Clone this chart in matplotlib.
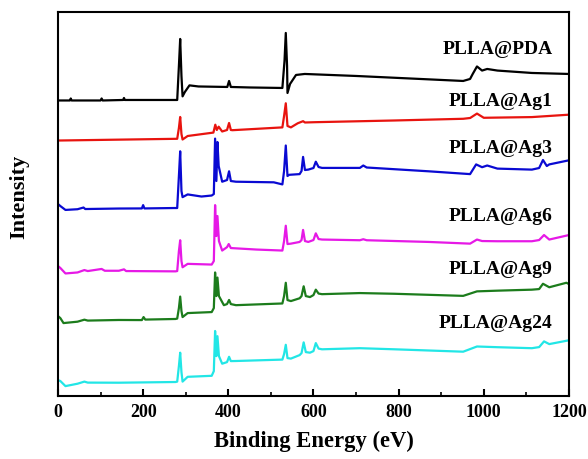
import numpy as np
import matplotlib
matplotlib.use('Agg')
import matplotlib.pyplot as plt
from matplotlib.ticker import MultipleLocator

plt.rcParams['font.family'] = ['Liberation Serif', 'DejaVu Serif']
plt.rcParams['font.weight'] = 'bold'

# Survey spectra (binding energy in eV, intensity in a.u. incl. offset)
e_pda = [0, 5.5, 28, 30, 32, 100, 102.5, 105, 153, 155, 157, 280, 284, 287, 290, 292.6, 298, 308.8, 330,
         397.6, 401.8, 406, 450, 527, 532, 535, 538, 539, 545, 559, 579.6, 700, 951.6, 967.8, 974, 984,
         996, 1008, 1032, 1113, 1200]
i_pda = [295.5, 295.5, 295.5, 297.5, 295.5, 295.5, 297.5, 295.5, 296, 298, 296, 296, 330, 357, 320, 299.6, 304,
         310.6, 309.5, 309, 315, 309, 308.5, 308, 335, 363, 330, 303, 312, 321, 322, 320, 315, 317, 322, 329.5,
         325.4, 327, 325.4, 323, 322]

e_ag1 = [0, 5.5, 280, 284, 287, 290, 292.6, 304.6, 365, 369.5, 373, 377.4, 385.6, 397, 401.8, 406, 409.8,
         527, 531, 535, 539, 547, 563, 575.6, 580, 604, 790, 951.6, 968, 984, 1000, 1113, 1200]
i_ag1 = [255.5, 255.5, 257.2, 268, 279, 262, 256.5, 260, 263.4, 271.3, 266, 269.3, 264.5, 266, 273, 266, 265.8,
         268.6, 280, 292.7, 270, 268.6, 272.7, 274.8, 273.5, 273.8, 275.5, 277.2, 278, 282.4, 278.2, 278.9, 281.3]

e_ag3 = [0, 5.5, 17.6, 45.9, 60, 64, 143, 197, 200, 203, 272, 280, 284, 287, 290, 292.6, 304.6, 337, 361, 366,
         369, 372, 374.5, 377.4, 385.6, 397, 401.8, 406, 418, 506.8, 527, 531, 535, 539, 543, 567.5, 572,
         575.6, 580, 587.8, 600, 605.5, 612, 620, 709, 717, 725, 870.8, 967.8, 982, 996, 1008, 1032, 1113,
         1130, 1139, 1148, 1153.8, 1200]
i_ag3 = [192, 190, 186.1, 186.8, 188.5, 187, 187.5, 187.6, 190.9, 187.6, 188, 188, 220, 244.7, 205, 198.9, 201.6,
         199.5, 200.5, 202, 257.4, 215, 254, 230, 214.3, 216, 224.7, 215, 214.3, 213.7, 211.6, 225, 250.5, 220,
         221.2, 221.9, 225, 239.1, 226, 226.4, 228, 234.3, 229, 228.1, 228.1, 230.5, 228.5, 224.7, 221.9,
         231.6, 228.8, 230.5, 227.4, 226.4, 228, 236, 230, 231.6, 235.7]

e_ag6 = [0, 5.5, 17.6, 45.9, 62, 70, 102.5, 110, 143, 155, 160, 276, 280, 284, 287, 290, 292.6, 304.6, 361,
         366, 369, 372, 374.5, 378, 385.6, 397, 401, 406, 466, 527, 531, 535, 539, 547, 567.5, 572, 575.6,
         580, 587.8, 600, 605.5, 612, 620, 709, 717, 725, 870.8, 967.8, 984, 996, 1032, 1113, 1130, 1141.5,
         1153.8, 1200]
i_ag6 = [130, 128.1, 122.6, 123.6, 126, 125, 127.1, 125.3, 125.3, 126.7, 125, 124.7, 125, 145, 155.8, 135, 128.8,
         132.2, 131.5, 135, 190.9, 160, 180, 155, 145.5, 148.9, 152, 148, 146.5, 145.5, 155, 170.3, 152,
         152.4, 154.1, 156, 166.1, 155, 154.1, 156, 162.7, 157, 156.5, 155.8, 156.8, 155.8, 154.1, 152.4,
         156.5, 155, 154.8, 154.8, 156, 161, 156.5, 161]

e_ag9 = [0, 5.5, 13, 45.9, 62, 70, 143, 197, 201, 205, 276, 280, 284, 287, 290, 292.6, 304.6, 361, 366, 369,
         372, 374.5, 378, 389.6, 397, 401.8, 406, 418, 527, 531, 535, 539, 547, 567.5, 572, 577, 582, 591.8,
         600, 605.5, 612, 620, 709, 790, 951.6, 984, 1032, 1113, 1130, 1139, 1153.8, 1194, 1200]
i_ag9 = [80, 78, 73, 74.4, 76.4, 75.5, 76.1, 76, 79, 76.5, 77.1, 77.5, 88, 99.5, 85, 79, 83, 84, 88, 123.6,
         100, 118.5, 100, 90.9, 92, 96.1, 92, 90.9, 92.6, 100, 113.3, 96, 95, 97.8, 100, 109.8, 100, 99,
         101, 106.4, 102.5, 101.9, 103, 102.3, 100.2, 104.7, 105.4, 106.4, 107, 112.3, 108.8, 113.3, 112]

e_ag24 = [0, 5.5, 17.6, 45.9, 62, 70, 143, 276, 280, 284, 287, 290, 292.6, 304.6, 361, 366, 369, 372, 374.5,
          378, 385.6, 397, 401.8, 406, 418, 527, 531, 535, 539, 547, 567.5, 572, 577, 582, 591.8, 600, 605.5,
          612, 620, 709, 790, 951.6, 984, 1032, 1113, 1130, 1141.5, 1153.8, 1200]
i_ag24 = [16, 15.1, 10, 12.4, 14.5, 13.5, 13.4, 14.1, 14.5, 30, 43.4, 24, 14.5, 19.3, 20.3, 25, 65.1, 40, 59.9,
          40, 32.4, 34, 39.3, 35, 35.1, 36.5, 42, 51.3, 38, 37.5, 41, 43, 53.7, 44, 43.4, 45, 53, 47.5, 46.8,
          47.9, 46.8, 44.4, 49.6, 48.9, 47.9, 49, 54.7, 52, 55.8]

labels = ['PLLA@PDA', 'PLLA@Ag1', 'PLLA@Ag3', 'PLLA@Ag6', 'PLLA@Ag9', 'PLLA@Ag24']
label_y = [346, 294, 247, 180, 127, 73]
colors = ['black', '#e8140f', '#0a0ad2', '#e619e6', '#1c7c1c', '#22e6e6']

spectra = [(e_pda, i_pda), (e_ag1, i_ag1), (e_ag3, i_ag3), (e_ag6, i_ag6), (e_ag9, i_ag9), (e_ag24, i_ag24)]

fig = plt.figure(figsize=(5.88, 4.59), dpi=100)
ax = fig.add_axes([0.0986, 0.137, 0.869, 0.837])

for (e, i), c, lab, ly in zip(spectra, colors, labels, label_y):
    ax.plot(e, i, color=c, linewidth=1.6)
    ax.text(1162, ly, lab, ha='right', va='center', fontsize=14, fontweight='bold')

ax.set_xlim(0, 1200)
ax.set_ylim(0, 384)
ax.set_yticks([])
ax.xaxis.set_major_locator(MultipleLocator(200))
ax.xaxis.set_minor_locator(MultipleLocator(100))
ax.tick_params(axis='x', which='major', direction='in', length=5, width=1.5, labelsize=13, pad=6)
ax.tick_params(axis='x', which='minor', direction='in', length=3, width=1.2)
for lbl in ax.get_xticklabels():
    lbl.set_fontweight('bold')
for sp in ax.spines.values():
    sp.set_linewidth(1.5)

ax.set_xlabel('Binding Energy (eV)', fontsize=16.3, fontweight='bold', labelpad=7)
ax.set_ylabel('Intensity', fontsize=16, fontweight='bold')
ax.yaxis.set_label_coords(-0.056, 0.518)

plt.savefig('out.png', dpi=100)
